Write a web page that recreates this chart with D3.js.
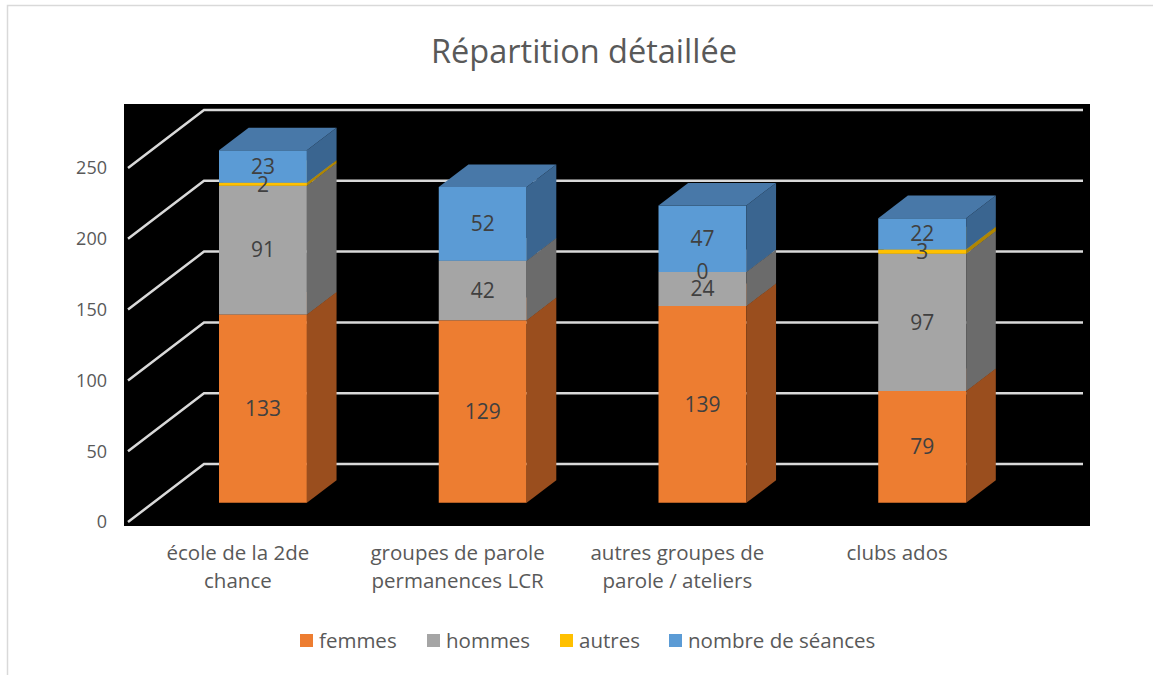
<!DOCTYPE html>
<html lang="fr">
<head>
<meta charset="utf-8">
<title>Répartition détaillée</title>
<script src="https://cdn.jsdelivr.net/npm/d3@7/dist/d3.min.js"></script>
<style>
  html, body { margin: 0; padding: 0; background: #fff; }
  svg { display: block; font-family: "Open Sans", "Noto Sans", sans-serif; }
</style>
</head>
<body>
<div id="chart"></div>
<script>
// ---- data ----
const categories = [
  ["école de la 2de", "chance"],
  ["groupes de parole", "permanences LCR"],
  ["autres groupes de", "parole / ateliers"],
  ["clubs ados"]
];
const seriesNames = ["femmes", "hommes", "autres", "nombre de séances"];
const femmes  = [133, 129, 139, 79];
const hommes  = [91, 42, 24, 97];
const autres  = [2, null, 0, 3];
const seances = [23, 52, 47, 22];
const yTicks  = [0, 50, 100, 150, 200, 250];

const seriesValues = [femmes, hommes, autres, seances];
const faceColors = [
  { front: "#ED7D31", side: "#9A4E1E", top: "#C0652A" },
  { front: "#A5A5A5", side: "#6B6B6B", top: "#8A8A8A" },
  { front: "#FFC000", side: "#B08600", top: "#D9A300" },
  { front: "#5B9BD5", side: "#3A6590", top: "#4878A8" }
];

// ---- layout ----
const W = 1153, H = 675;
const depth = { x: 76, y: -58 };          // full floor depth vector
const barFront = 0.33, barBack = 0.72;    // bar position inside the depth

const svg = d3.select("#chart").append("svg")
  .attr("width", W).attr("height", H);

// outer frame
svg.append("rect")
  .attr("x", 7.5).attr("y", 5.5).attr("width", 1200).attr("height", 700)
  .attr("fill", "#fff").attr("stroke", "#D9D9D9").attr("stroke-width", 1.5);

// plot background
svg.append("rect")
  .attr("x", 124).attr("y", 104).attr("width", 966).attr("height", 422)
  .attr("fill", "#000");

const x = d3.scaleBand()
  .domain(d3.range(categories.length))
  .range([128, 1007]);

const y = d3.scaleLinear().domain([0, 250]).range([522, 168]);

const P = (px, v, d) => [px + d * depth.x, y(v) + d * depth.y];

// gridlines (left wall + back wall)
const grid = svg.append("g")
  .attr("fill", "none").attr("stroke", "#D9D9D9").attr("stroke-width", 2.5);
yTicks.forEach(t => {
  const a = P(x.range()[0], t, 0), b = P(x.range()[0], t, 1), c = P(x.range()[1], t, 1);
  grid.append("polyline").attr("points", [a, b, c].map(p => p.join(",")).join(" "));
});

// y labels
svg.append("g")
  .selectAll("text").data(yTicks).join("text")
  .attr("x", 107).attr("y", d => y(d)).attr("dy", "0.35em")
  .attr("text-anchor", "end").attr("font-size", 18).attr("fill", "#595959")
  .text(d => d);

// bars
const barW = x.bandwidth() * 0.4;
const poly = pts => pts.map(p => p.join(",")).join(" ");
const bars = svg.append("g");
const labels = [];

categories.forEach((cat, i) => {
  const x0 = x(i) + (x.bandwidth() - barW) / 2, x1 = x0 + barW;
  let base = 0;
  seriesValues.forEach((vals, s) => {
    const v = vals[i];
    if (v === null) return;
    const top = base + v;
    const col = faceColors[s];
    const f0 = P(x0, base, barFront), f1 = P(x1, base, barFront);
    const f2 = P(x1, top, barFront), f3 = P(x0, top, barFront);
    const b1 = P(x1, base, barBack), b2 = P(x1, top, barBack), b3 = P(x0, top, barBack);
    if (v > 0) {
      bars.append("polygon").attr("points", poly([f0, f1, f2, f3])).attr("fill", col.front);
      bars.append("polygon").attr("points", poly([f1, b1, b2, f2])).attr("fill", col.side);
      bars.append("polygon").attr("points", poly([f3, f2, b2, b3])).attr("fill", col.top);
    }
    labels.push({ x: (f0[0] + f1[0]) / 2, y: (f0[1] + f3[1]) / 2, v });
    base = top;
  });
});

svg.append("g")
  .selectAll("text").data(labels).join("text")
  .attr("x", d => d.x).attr("y", d => d.y).attr("dy", "0.35em")
  .attr("text-anchor", "middle").attr("font-size", 21).attr("fill", "#404040")
  .text(d => d.v);

// category labels
const catG = svg.append("g").attr("font-size", 20.5).attr("fill", "#595959")
  .attr("text-anchor", "middle");
categories.forEach((lines, i) => {
  const t = catG.append("text").attr("x", x(i) + x.bandwidth() / 2).attr("y", 560);
  lines.forEach((ln, k) => t.append("tspan")
    .attr("x", x(i) + x.bandwidth() / 2).attr("dy", k ? 28 : 0).text(ln));
});

// title
svg.append("text")
  .attr("x", 584).attr("y", 63).attr("text-anchor", "middle")
  .attr("font-size", 32.5).attr("fill", "#595959")
  .text("Répartition détaillée");

// legend
const legendX = [300, 427, 560, 669];
const leg = svg.append("g").attr("font-size", 20.5).attr("fill", "#595959");
seriesNames.forEach((n, s) => {
  leg.append("rect").attr("x", legendX[s]).attr("y", 634).attr("width", 13).attr("height", 13)
    .attr("fill", faceColors[s].front);
  leg.append("text").attr("x", legendX[s] + 19).attr("y", 641).attr("dy", "0.35em").text(n);
});
</script>
</body>
</html>
